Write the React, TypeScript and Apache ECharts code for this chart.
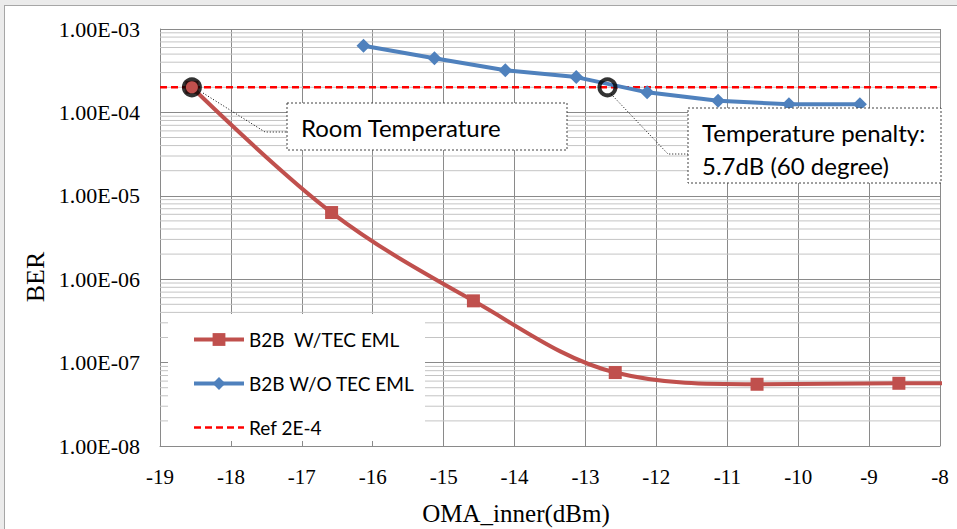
import React, { useEffect, useRef } from "react";
import * as echarts from "echarts";

// ---- data ----
const redName = "B2B  W/TEC EML";
const blueName = "B2B W/O TEC EML";
const refName = "Ref 2E-4";

const redX = [-18.55, -16.58, -14.58, -12.58, -10.58, -8.58, -6.58];
const redY = [2.0e-4, 6.3e-6, 5.5e-7, 7.6e-8, 5.5e-8, 5.65e-8, 5.7e-8];

const blueX = [-16.13, -15.13, -14.13, -13.13, -12.13, -11.13, -10.13, -9.13];
const blueY = [6.3e-4, 4.45e-4, 3.2e-4, 2.65e-4, 1.74e-4, 1.38e-4, 1.25e-4, 1.25e-4];

const refX = [-19, -8];
const refY = [2e-4, 2e-4];

const circleX = [-18.55, -12.69];
const circleY = [2e-4, 2e-4];

const yTickLabels = ["1.00E-08", "1.00E-07", "1.00E-06", "1.00E-05", "1.00E-04", "1.00E-03"];
const yDecades = [-8, -7, -6, -5, -4];
const minorMultipliers = [2, 3, 4, 5, 6, 7, 8, 9];
const xRange = [-19, -8];

const annotRoom = "Room Temperature";
const annotPenaltyLines = ["Temperature penalty:", "5.7dB (60 degree)"];
const xTitle = "OMA_inner(dBm)";
const yTitle = "BER";

const zip = (xs: number[], ys: number[]) => xs.map((x, i) => [x, ys[i]]);

export default function App() {
  const ref = useRef<HTMLDivElement>(null);

  useEffect(() => {
    if (!ref.current) return;
    const chart = echarts.init(ref.current, undefined, { renderer: "svg" });

    const minorLines: number[] = [];
    yDecades.forEach((d) => minorMultipliers.forEach((m) => minorLines.push(m * Math.pow(10, d))));

    const serif = "Liberation Serif";
    const sans = "Lato";

    const minorSeries = minorLines.map((v, i) => ({
      name: "minor-" + i,
      type: "line",
      data: [
        [xRange[0], v],
        [xRange[1], v],
      ],
      symbol: "none",
      silent: true,
      z: 1,
      lineStyle: { color: "#c4c4c4", width: 1, type: "solid" },
    }));

    const option: any = {
      animation: false,
      backgroundColor: "transparent",
      grid: { left: 160, right: 17, top: 29, bottom: 83, containLabel: false, outerBoundsMode: "none" },
      xAxis: {
        type: "value",
        min: xRange[0],
        max: xRange[1],
        interval: 1,
        axisLine: { show: true, lineStyle: { color: "#8a8a8a", width: 1 } },
        axisTick: { show: true, inside: true, length: 5, lineStyle: { color: "#8a8a8a" } },
        axisLabel: { fontFamily: serif, fontSize: 21, color: "#000", margin: 20 },
        splitLine: { show: true, lineStyle: { color: "#8a8a8a", width: 1 } },
      },
      yAxis: {
        type: "log",
        logBase: 10,
        min: 1e-8,
        max: 1e-3,
        splitNumber: 5,
        axisLine: { show: true, lineStyle: { color: "#8a8a8a", width: 1 } },
        axisTick: { show: false },
        axisLabel: {
          fontFamily: serif,
          fontSize: 22,
          color: "#000",
          margin: 20,
          formatter: (v: number) => {
            const e = Math.round(Math.log10(v));
            return yTickLabels[e + 8] ?? "";
          },
        },
        splitLine: { show: true, lineStyle: { color: "#8a8a8a", width: 1 } },
      },
      legend: {
        orient: "vertical",
        left: 192,
        top: 330,
        padding: 0,
        itemWidth: 50,
        itemHeight: 16,
        itemGap: 25,
        z: 10,
        data: [
          { name: redName, lineStyle: { width: 4 } },
          { name: blueName, lineStyle: { width: 4 } },
          { name: refName, lineStyle: { width: 2.5 }, itemStyle: { opacity: 0 } },
        ],
        textStyle: { fontFamily: sans, fontSize: 19, color: "#000" },
        selectedMode: false,
      },
      series: [
        ...minorSeries,
        {
          name: refName,
          type: "line",
          data: zip(refX, refY),
          symbol: "none",
          z: 4,
          lineStyle: { color: "#ff0000", width: 2.5, type: [7, 4] },
          itemStyle: { color: "#ff0000" },
        },
        {
          name: redName,
          type: "line",
          data: zip(redX, redY),
          smooth: 0.35,
          clip: true,
          symbol: "rect",
          symbolSize: 13,
          z: 5,
          lineStyle: { color: "#c0504d", width: 4 },
          itemStyle: { color: "#c0504d" },
        },
        {
          name: blueName,
          type: "line",
          data: zip(blueX, blueY),
          symbol: "diamond",
          symbolSize: 14,
          z: 5,
          lineStyle: { color: "#4f81bd", width: 4 },
          itemStyle: { color: "#4f81bd" },
        },
        {
          name: "circles",
          type: "scatter",
          data: zip(circleX, circleY),
          symbol: "circle",
          symbolSize: 16,
          z: 6,
          itemStyle: { color: "rgba(0,0,0,0)", borderColor: "#000", borderWidth: 4 },
        },
      ],
      graphic: [
        // legend background
        { type: "rect", z: 8, shape: { x: 168, y: 314, width: 257, height: 127 }, style: { fill: "#fff" } },
        // Room temperature callout
        {
          type: "polyline",
          z: 20,
          shape: { points: [[203, 93], [265, 132], [287, 132]] },
          style: { stroke: "#000", lineWidth: 1, lineDash: [1, 2], fill: null },
        },
        {
          type: "rect",
          z: 20,
          shape: { x: 287, y: 103, width: 280, height: 47 },
          style: { fill: "#fff", stroke: "#404040", lineWidth: 1, lineDash: [2, 2] },
        },
        {
          type: "text",
          z: 21,
          x: 301,
          y: 127,
          style: { text: annotRoom, fontFamily: sans, fontSize: 24, fill: "#000", align: "left", verticalAlign: "middle" },
        },
        // Temperature penalty callout
        {
          type: "polyline",
          z: 20,
          shape: { points: [[611, 94], [668, 154], [688, 154]] },
          style: { stroke: "#000", lineWidth: 1, lineDash: [1, 2], fill: null },
        },
        {
          type: "rect",
          z: 20,
          shape: { x: 688, y: 108, width: 253, height: 75 },
          style: { fill: "#fff", stroke: "#404040", lineWidth: 1, lineDash: [2, 2] },
        },
        {
          type: "text",
          z: 21,
          x: 702,
          y: 132,
          style: { text: annotPenaltyLines[0], fontFamily: sans, fontSize: 24, fill: "#000", align: "left", verticalAlign: "middle" },
        },
        {
          type: "text",
          z: 21,
          x: 702,
          y: 165,
          style: { text: annotPenaltyLines[1], fontFamily: sans, fontSize: 24, fill: "#000", align: "left", verticalAlign: "middle" },
        },
        // axis titles
        {
          type: "text",
          z: 21,
          x: 35,
          y: 277,
          rotation: Math.PI / 2,
          style: { text: yTitle, fontFamily: serif, fontSize: 26, fill: "#000", align: "center", verticalAlign: "middle" },
        },
        {
          type: "text",
          z: 21,
          x: 516,
          y: 513,
          style: { text: xTitle, fontFamily: serif, fontSize: 25, fill: "#000", align: "center", verticalAlign: "middle" },
        },
      ],
    };

    chart.setOption(option);
    return () => chart.dispose();
  }, []);

  return (
    <div style={{ position: "fixed", left: 0, top: 0, width: 957, height: 529, background: "#ebebeb", overflow: "hidden" }}>
      <div
        style={{
          position: "absolute",
          left: 4,
          top: 5,
          width: 980,
          height: 560,
          background: "#fff",
          border: "1px solid #a6a6a6",
          boxSizing: "border-box",
        }}
      />
      <div ref={ref} style={{ position: "absolute", left: 0, top: 0, width: 957, height: 529 }} />
    </div>
  );
}
